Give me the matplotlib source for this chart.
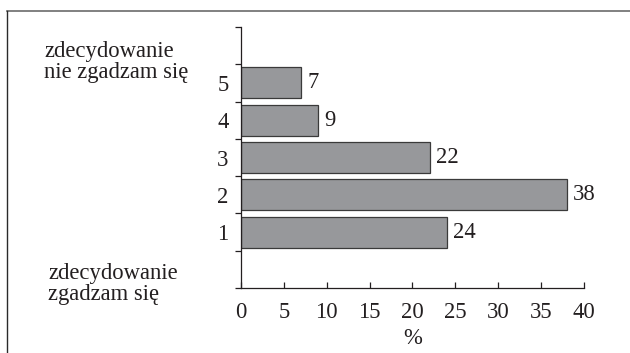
import matplotlib
matplotlib.use("Agg")
import matplotlib.pyplot as plt
from matplotlib.lines import Line2D

# answers 1..5 on the agreement scale, share of respondents in %
CATEGORIES = ["1", "2", "3", "4", "5"]
POSITIONS = [1, 2, 3, 4, 5]
VALUES = [24, 38, 22, 9, 7]
X_TICKS = [0, 5, 10, 15, 20, 25, 30, 35, 40]
LABEL_TOP = "zdecydowanie\nnie zgadzam się"
LABEL_BOTTOM = "zdecydowanie\nzgadzam się"

plt.rcParams["font.family"] = ["Liberation Serif", "DejaVu Serif"]
FS = 16.3
INK = "#231f20"

fig = plt.figure(figsize=(6.3, 3.53), dpi=100)
ax = fig.add_axes([0.3825, 0.184, 0.927 - 0.3825, 0.9235 - 0.184])

bars = ax.barh(POSITIONS, VALUES, height=0.83, color="#97989b",
               edgecolor="#3a3a3a", linewidth=0.9)
for pos, val in zip(POSITIONS, VALUES):
    ax.text(val + 0.75, pos, str(val), va="center", ha="left",
            fontsize=FS, color=INK)

ax.set_xlim(0, 40)
ax.set_ylim(-0.5, 6.5)
ax.set_xticks(X_TICKS)
ax.set_xticklabels([str(t) for t in X_TICKS], fontsize=FS, color=INK)
ax.tick_params(axis="x", direction="in", length=4, width=0.9, pad=10,
               color=INK)

# ticks at slot borders, labels at slot centres
ax.set_yticks([i - 0.5 for i in range(8)])
ax.set_yticklabels([])
ax.tick_params(axis="y", which="major", direction="out", length=4,
               width=0.9, color=INK)
ax.set_yticks(POSITIONS, minor=True)
ax.set_yticklabels(CATEGORIES, minor=True, fontsize=FS, color=INK)
ax.tick_params(axis="y", which="minor", length=0, pad=9)

for s in ["top", "right"]:
    ax.spines[s].set_visible(False)
for s in ["left", "bottom"]:
    ax.spines[s].set_linewidth(0.9)
    ax.spines[s].set_color(INK)

ax.set_xlabel("%", fontsize=FS, color=INK, labelpad=4)

fig.text(44 / 630, 1 - 62 / 353, LABEL_TOP, fontsize=FS, color=INK,
         ha="left", va="center", linespacing=1.05)
fig.text(48 / 630, 1 - 284 / 353, LABEL_BOTTOM, fontsize=FS, color=INK,
         ha="left", va="center", linespacing=1.05)

# outer frame (top and left edges)
fig.add_artist(Line2D([7 / 630, 1.0], [1 - 11 / 353, 1 - 11 / 353],
                      transform=fig.transFigure, color="#6b6b6b", lw=1.2))
fig.add_artist(Line2D([7 / 630, 7 / 630], [0.0, 1 - 11 / 353],
                      transform=fig.transFigure, color="#2a2a2a", lw=1.0))

fig.savefig("out.png", dpi=100)
